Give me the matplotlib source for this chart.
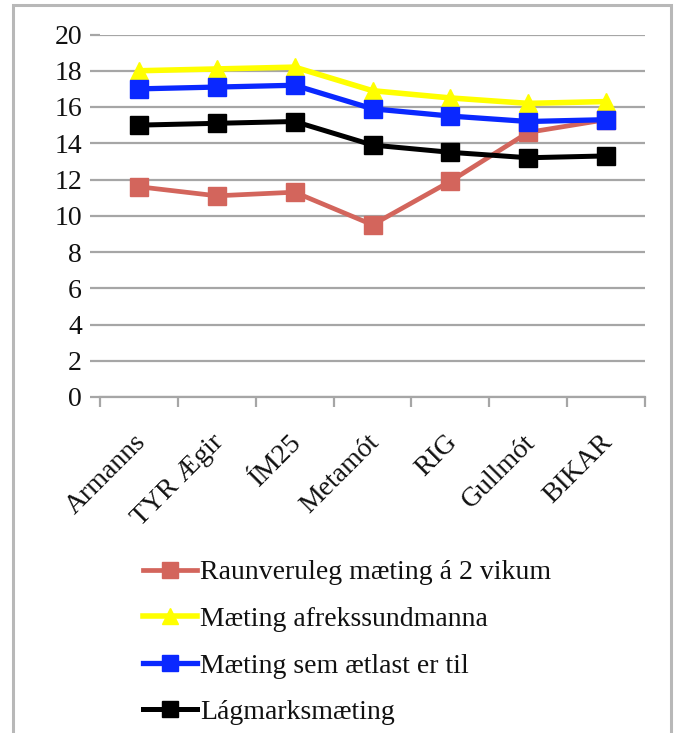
import matplotlib
matplotlib.use("Agg")
import matplotlib.pyplot as plt
import matplotlib.transforms as mtransforms
from matplotlib.patches import Rectangle
from matplotlib.lines import Line2D

categories = ["Armanns", "TYR Ægir", "ÍM25", "Metamót", "RIG", "Gullmót", "BIKAR"]
raunveruleg = [11.6, 11.1, 11.3, 9.5, 11.9, 14.6, 15.3]
afrekssund = [18.0, 18.1, 18.2, 16.9, 16.5, 16.2, 16.3]
aetlast = [17.0, 17.1, 17.2, 15.9, 15.5, 15.2, 15.3]
lagmark = [15.0, 15.1, 15.2, 13.9, 13.5, 13.2, 13.3]
labels = ["Raunveruleg mæting á 2 vikum", "Mæting afrekssundmanna",
          "Mæting sem ætlast er til", "Lágmarksmæting"]
yticks = [0, 2, 4, 6, 8, 10, 12, 14, 16, 18, 20]

plt.rcParams['font.family'] = ['Liberation Serif', 'DejaVu Serif']

W, H = 676, 733
fig = plt.figure(figsize=(W / 100, H / 100), dpi=100)
fig.patch.set_facecolor("white")

# outer border
fig.patches.append(Rectangle((13 / W, -0.01), (671 - 13) / W, (H - 5) / H + 0.01,
                             transform=fig.transFigure, fill=False,
                             edgecolor="#b8b8b8", linewidth=2.2))

ax = fig.add_axes([100 / W, (H - 397) / H, (645 - 100) / W, (397 - 34.5) / H])
x = list(range(len(categories)))

series = [
    (raunveruleg, "#d3655c", "s", 12.5, 3.4),
    (afrekssund, "#ffff00", "^", 13, 4.0),
    (aetlast, "#0a28ff", "s", 13, 3.8),
    (lagmark, "#000000", "s", 13, 3.6),
]
handles = []
for i, (vals, col, mk, ms, lw) in enumerate(series):
    ln, = ax.plot(x, vals, color=col, marker=mk, markersize=ms, linewidth=lw,
                  markeredgecolor=col, zorder=3 + i, label=labels[i])
    handles.append(ln)
handles[0].set_zorder(4.5)

ax.set_xlim(-0.5, len(categories) - 0.5)
ax.set_ylim(0, 20)
ax.set_yticks(yticks)
ax.yaxis.grid(True, color="#a6a6a6", linewidth=1.6)
ax.set_axisbelow(True)
for s in ["top", "right", "left"]:
    ax.spines[s].set_visible(False)
ax.spines["bottom"].set_color("#a6a6a6")
ax.spines["bottom"].set_linewidth(1.6)
ax.tick_params(axis="y", length=7, width=1.6, color="#a6a6a6", pad=6,
               labelsize=20, labelcolor="#111111")

ax.set_xticks(x)
ax.set_xticklabels(categories, rotation=45, ha="right", va="center",
                   rotation_mode="anchor", fontsize=20, color="#111111")
ax.tick_params(axis="x", which="major", length=0, pad=30)
ax.set_xticks([i - 0.5 for i in range(len(categories) + 1)], minor=True)
ax.tick_params(axis="x", which="minor", length=7, width=1.6, color="#a6a6a6",
               direction="out")
off = mtransforms.ScaledTranslation(3 / 100, 0, fig.dpi_scale_trans)
for lbl in ax.get_xticklabels():
    lbl.set_transform(lbl.get_transform() + off)

leg_handles = []
for (vals, col, mk, ms, lw) in series:
    leg_handles.append(Line2D([0], [0], color=col, marker=mk,
                              markersize=ms - 1, linewidth=lw, markeredgecolor=col))
fig.legend(leg_handles, labels, loc="upper left", bbox_to_anchor=(143 / W, 1 - 560 / H),
           frameon=False, fontsize=20, handlelength=1.95, handletextpad=0.12,
           labelspacing=0.76, borderpad=0, borderaxespad=0, labelcolor="#111111")

fig.savefig("out.png", dpi=100, facecolor="white")
